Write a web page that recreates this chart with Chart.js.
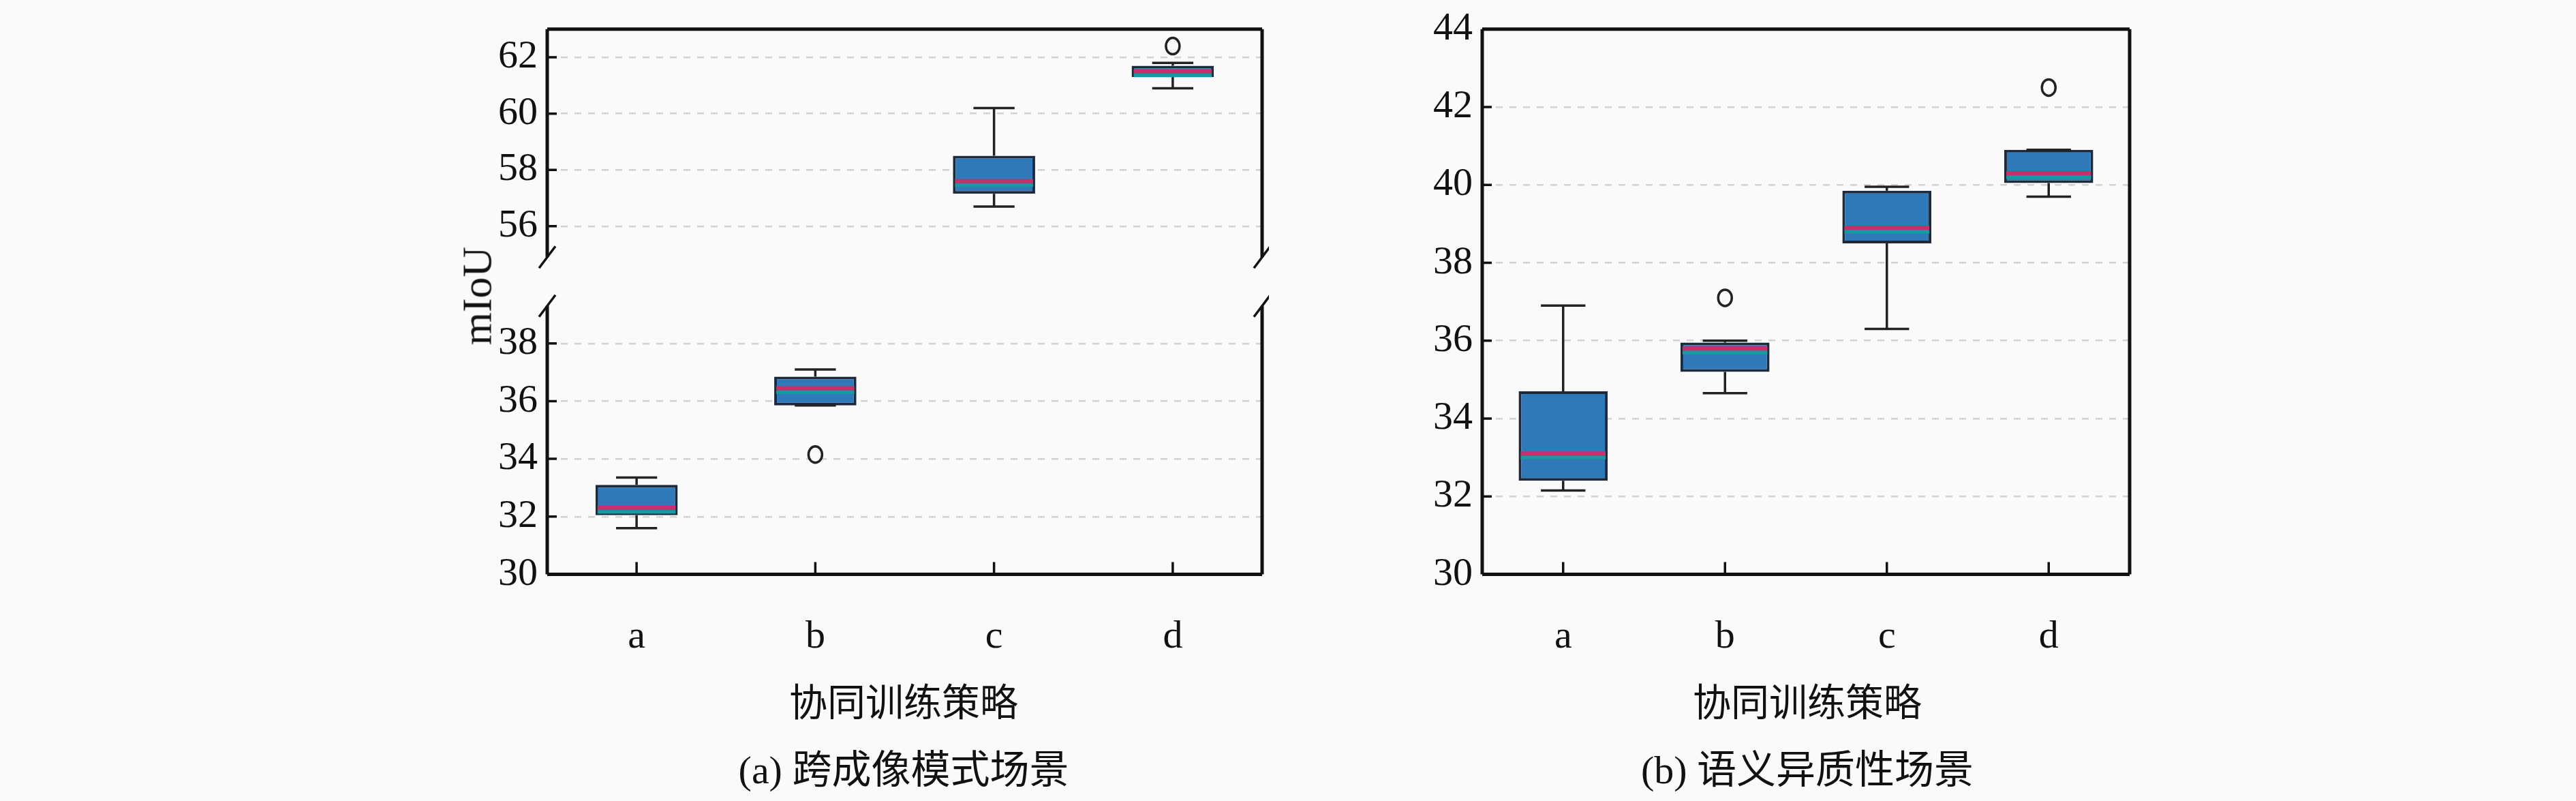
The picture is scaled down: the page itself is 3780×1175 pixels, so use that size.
<!DOCTYPE html>
<html>
<head>
<meta charset="utf-8">
<script src="https://cdn.jsdelivr.net/npm/chart.js@4/dist/chart.umd.min.js"></script>
<style>
  body { margin: 0; background: #fafafa; width: 3780px; height: 1175px; position: relative; overflow: hidden; }
  canvas { position: absolute; }
  .txt { position: absolute; font-family: "Liberation Serif", "Noto Sans CJK SC", serif; color: #111; white-space: nowrap; transform: translate(-50%, -50%); }
</style>
</head>
<body>
<canvas id="left-top" style="left:683px;top:-6px;width:1179px;height:432px" width="1179" height="432"></canvas>
<canvas id="left-bottom" style="left:683px;top:400px;width:1179px;height:620px" width="1179" height="620"></canvas>
<canvas id="right" style="left:2055px;top:-6px;width:1080px;height:1026px" width="1080" height="1026"></canvas>
<div class="txt" style="left:700px;top:434px;font-size:62px;transform:translate(-50%,-50%) rotate(-90deg)">mIoU</div>
<div class="txt" style="left:1326px;top:1025px;font-size:56px">协同训练策略</div>
<div class="txt" style="left:2652px;top:1025px;font-size:56px">协同训练策略</div>
<div class="txt" style="left:1326px;top:1124px;font-size:58px">(a) 跨成像模式场景</div>
<div class="txt" style="left:2652px;top:1124px;font-size:58px">(b) 语义异质性场景</div>
<script>
const categories = ["a", "b", "c", "d"];

// (a) cross-modality scenario
const leftMin = [31.6, 35.85, 56.7, 60.9];
const leftQ1 = [32.05, 35.85, 57.15, 61.3];
const leftMedian = [32.3, 36.45, 57.6, 61.5];
const leftQ3 = [33.1, 36.85, 58.5, 61.7];
const leftMax = [33.35, 37.1, 60.2, 61.8];
const leftOutliers = [[], [34.15], [], [62.4]];
const leftTopTicks = [56, 58, 60, 62];
const leftBottomTicks = [30, 32, 34, 36, 38];

// (b) semantic heterogeneity scenario
const rightMin = [32.15, 34.65, 36.3, 39.7];
const rightQ1 = [32.4, 35.2, 38.5, 40.05];
const rightMedian = [33.1, 35.8, 38.9, 40.3];
const rightQ3 = [34.7, 35.95, 39.85, 40.9];
const rightMax = [36.9, 36.0, 39.95, 40.9];
const rightOutliers = [[], [37.1], [], [42.5]];
const rightTicks = [30, 32, 34, 36, 38, 40, 42, 44];

const FONT = "Liberation Serif";

function pick(arr, keep) {
  return arr.map((v, i) => (keep.includes(i) ? v : null));
}

const boxPlugin = {
  id: "boxExtras",
  afterDatasetsDraw(chart, args, opts) {
    const { ctx, chartArea } = chart;
    const x = chart.scales.x;
    const y = chart.scales.y;
    const meta = chart.getDatasetMeta(0);
    ctx.save();
    opts.min.forEach((mn, i) => {
      if (mn === null) return;
      const bar = meta.data[i];
      const cx = x.getPixelForValue(i);
      const half = bar.width / 2;
      ctx.strokeStyle = "#222";
      ctx.lineWidth = 3.5;
      // whiskers
      ctx.beginPath();
      ctx.moveTo(cx, y.getPixelForValue(opts.q3[i]));
      ctx.lineTo(cx, y.getPixelForValue(opts.max[i]));
      ctx.moveTo(cx, y.getPixelForValue(opts.q1[i]));
      ctx.lineTo(cx, y.getPixelForValue(mn));
      ctx.moveTo(cx - half / 2, y.getPixelForValue(opts.max[i]));
      ctx.lineTo(cx + half / 2, y.getPixelForValue(opts.max[i]));
      ctx.moveTo(cx - half / 2, y.getPixelForValue(mn));
      ctx.lineTo(cx + half / 2, y.getPixelForValue(mn));
      ctx.stroke();
      // median
      const my = y.getPixelForValue(opts.median[i]);
      ctx.strokeStyle = "#1a9aa0";
      ctx.lineWidth = 5;
      ctx.beginPath();
      ctx.moveTo(cx - half + 3, my + 6);
      ctx.lineTo(cx + half - 3, my + 6);
      ctx.stroke();
      ctx.strokeStyle = "#c8306a";
      ctx.lineWidth = 6;
      ctx.beginPath();
      ctx.moveTo(cx - half + 3, my);
      ctx.lineTo(cx + half - 3, my);
      ctx.stroke();
      // outliers
      (opts.outliers[i] || []).forEach((v) => {
        ctx.strokeStyle = "#222";
        ctx.lineWidth = 3.5;
        ctx.fillStyle = "#fafafa";
        ctx.beginPath();
        ctx.ellipse(cx, y.getPixelForValue(v), 10, 12, 0, 0, Math.PI * 2);
        ctx.fill();
        ctx.stroke();
      });
    });
    // frame
    ctx.strokeStyle = "#111";
    ctx.lineWidth = 5;
    const { left, right, top, bottom } = chartArea;
    ctx.beginPath();
    if (opts.frame.includes("t")) { ctx.moveTo(left, top); ctx.lineTo(right, top); }
    if (opts.frame.includes("b")) { ctx.moveTo(left, bottom); ctx.lineTo(right, bottom); }
    ctx.moveTo(left, top); ctx.lineTo(left, bottom);
    ctx.moveTo(right, top); ctx.lineTo(right, bottom);
    ctx.stroke();
    // inward ticks
    ctx.lineWidth = 3.5;
    ctx.beginPath();
    y.ticks.forEach((t) => {
      const ty = y.getPixelForValue(t.value);
      ctx.moveTo(left, ty); ctx.lineTo(left + 14, ty);
    });
    if (opts.frame.includes("b")) {
      categories.forEach((c, i) => {
        const tx = x.getPixelForValue(i);
        ctx.moveTo(tx, bottom); ctx.lineTo(tx, bottom - 18);
      });
    }
    ctx.stroke();
    // break marks
    ctx.lineWidth = 3.5;
    ctx.beginPath();
    if (opts.breakAt === "bottom") {
      [left, right].forEach((ex) => { ctx.moveTo(ex - 12, bottom + 16); ctx.lineTo(ex + 12, bottom - 16); });
    }
    if (opts.breakAt === "top") {
      [left, right].forEach((ex) => { ctx.moveTo(ex - 12, top + 16); ctx.lineTo(ex + 12, top - 16); });
    }
    ctx.stroke();
    ctx.restore();
  }
};

function makeChart(id, cfg) {
  const showX = cfg.frame.includes("b");
  return new Chart(document.getElementById(id), {
    type: "bar",
    data: {
      labels: categories,
      datasets: [{
        data: cfg.q1.map((v, i) => (v === null ? null : [v, cfg.q3[i]])),
        backgroundColor: "#2f79b9",
        borderColor: "#1e2a3a",
        borderWidth: 4,
        borderSkipped: false,
        barPercentage: cfg.barWidth,
        categoryPercentage: 1
      }]
    },
    options: {
      responsive: false,
      animation: false,
      layout: { padding: { top: 0, right: 10, bottom: 0, left: 0 } },
      plugins: {
        legend: { display: false },
        tooltip: { enabled: false },
        boxExtras: cfg
      },
      scales: {
        x: {
          display: showX,
          offset: true,
          grid: { display: false },
          border: { display: false },
          ticks: { color: "#111", font: { family: FONT, size: 58 }, padding: 50 }
        },
        y: {
          min: cfg.yMin,
          max: cfg.yMax,
          afterFit(scale) { scale.width = 120; },
          afterBuildTicks(scale) { scale.ticks = cfg.ticks.map((v) => ({ value: v })); },
          grid: { color: "#d2d2d2", lineWidth: 2.5, drawTicks: false },
          border: { display: false, dash: [10, 10] },
          ticks: { color: "#111", font: { family: FONT, size: 58 }, padding: 14 }
        }
      }
    },
    plugins: [boxPlugin]
  });
}

makeChart("left-top", {
  min: pick(leftMin, [2, 3]), q1: pick(leftQ1, [2, 3]), median: pick(leftMedian, [2, 3]),
  q3: pick(leftQ3, [2, 3]), max: pick(leftMax, [2, 3]), outliers: leftOutliers.map((o, i) => (i >= 2 ? o : [])),
  yMin: 54.9, yMax: 63.0, ticks: leftTopTicks, frame: "t", breakAt: "bottom", barWidth: 0.46
});
makeChart("left-bottom", {
  min: pick(leftMin, [0, 1]), q1: pick(leftQ1, [0, 1]), median: pick(leftMedian, [0, 1]),
  q3: pick(leftQ3, [0, 1]), max: pick(leftMax, [0, 1]), outliers: leftOutliers.map((o, i) => (i < 2 ? o : [])),
  yMin: 30, yMax: 39.3, ticks: leftBottomTicks, frame: "b", breakAt: "top", barWidth: 0.46
});
makeChart("right", {
  min: rightMin, q1: rightQ1, median: rightMedian, q3: rightQ3, max: rightMax, outliers: rightOutliers,
  yMin: 30, yMax: 44, ticks: rightTicks, frame: "tb", breakAt: "none", barWidth: 0.55
});
</script>
</body>
</html>
